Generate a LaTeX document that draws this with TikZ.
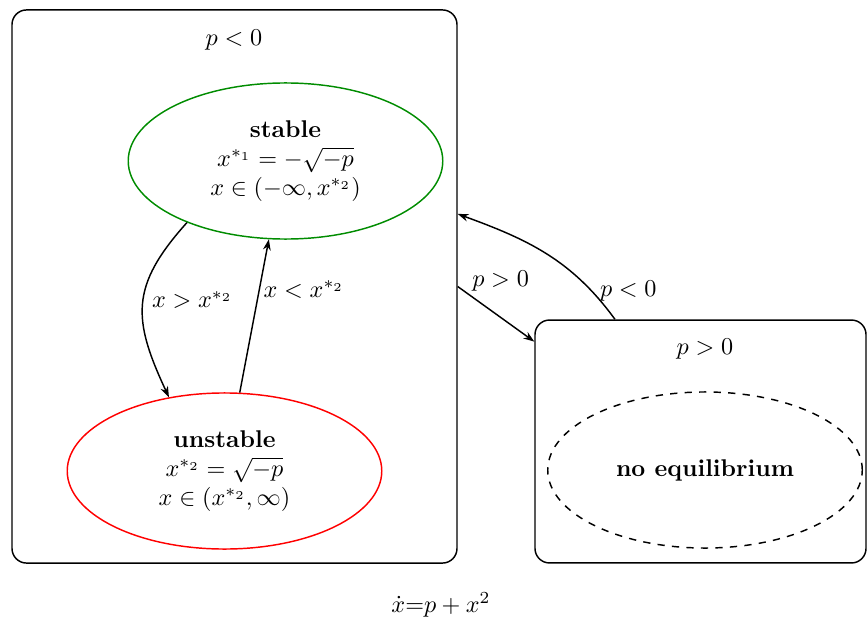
\documentclass[tikz,border=0pt]{standalone}
\usetikzlibrary{shapes.geometric,arrows.meta,positioning}
\tikzset{
  regionbox/.style={draw, semithick, rounded corners=6pt, inner sep=0pt},
  eqstate/.style={ellipse, draw, semithick, inner sep=0pt, minimum width=130pt,
    minimum height=64.5pt, align=center},
  trans/.style={-{Stealth[length=4.5pt,width=3.2pt]}, semithick},
}
\begin{document}
\begin{tikzpicture}[x=0.4133pt, y=0.4133pt]
  \useasboundingbox (0,0) rectangle (867,620);
  % regions for the sign of p
  \node[regionbox, minimum width=183.9pt, minimum height=228.6pt] (negbox) at (234.5,333.5) {};
  \node[regionbox, minimum width=136.8pt, minimum height=100.4pt] (posbox) at (700.5,178.5) {};
  \node (negtitle) at (234,580) {$p<0$};
  \node (postitle) at (705,271) {$p>0$};
  % equilibria
  \node[eqstate, draw=green!55!black] (stable) at (285.5,459)
    {\textbf{stable}\\ $x^{*_1}=-\sqrt{-p}$\\ $x\in(-\infty,x^{*_2})$};
  \node[eqstate, draw=red] (unstable) at (224.5,149)
    {\textbf{unstable}\\ $x^{*_2}=\sqrt{-p}$\\ $x\in(x^{*_2},\infty)$};
  \node[eqstate, dashed] (noeq) at (705,150) {\textbf{no equilibrium}};
  % transitions inside p<0
  \draw[trans] (stable.-148) to[out=-132, in=115, looseness=1.25]
    node[pos=0.47, right] {$x>x^{*_2}$} (unstable.127);
  \draw[trans] (unstable.79) --
    node[pos=0.67, right, inner sep=1.5pt] {$x<x^{*_2}$} (stable.-102.5);
  % transitions between regions
  \draw[trans] (negbox.east) --
    node[pos=0.15, above right, inner sep=1pt] {$p>0$} (posbox.149.8);
  \draw[trans] (posbox.125.9) to[out=126, in=-20]
    node[pos=0.18, right] {$p<0$} (negbox.18.5);
  % system
  \node (system) at (441,15) {$\dot{x}$=$p+x^2$};
\end{tikzpicture}
\end{document}
